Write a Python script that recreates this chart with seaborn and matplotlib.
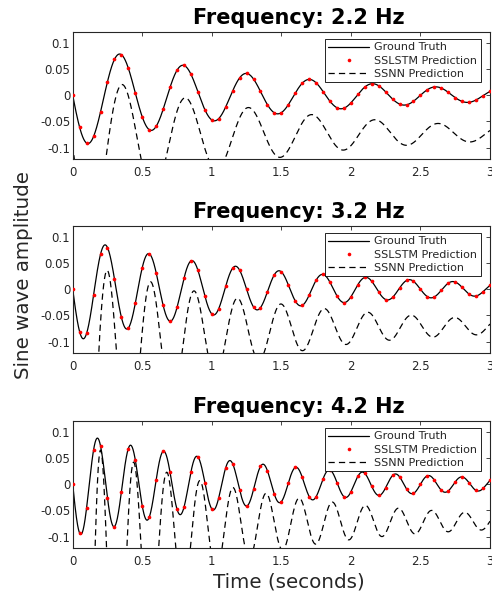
import numpy as np
import pandas as pd
import matplotlib
matplotlib.use("Agg")
import matplotlib.pyplot as plt
import seaborn as sns
from matplotlib.lines import Line2D

# ---------------- data ----------------
TITLES = ["Frequency: 2.2 Hz", "Frequency: 3.2 Hz", "Frequency: 4.2 Hz"]
FREQUENCIES = [2.2, 3.2, 4.2]          # Hz, from the panel titles
GT_AMPLITUDE = 0.1                      # initial amplitude of ground truth
GT_DECAY = 0.7                          # envelope decay (1/s)
SAMPLE_STEP = 0.05                      # spacing of SSLSTM prediction points (s)
DURATION = 3.0
# SSNN prediction: offset, oscillation amplitude / decay, lag, and initial trough transient
SSNN_OFFSET = [-0.073, -0.0714, -0.0714]
SSNN_AMPLITUDE = [0.12, 0.129, 0.16]
SSNN_DECAY = [0.70, 0.73, 0.78]
SSNN_LAG = [0.017, 0.014, 0.022]
SSNN_TRANSIENT = [0.13, 0.40, 0.85]
SSNN_TRANSIENT_RATE = [2.4, 2.4, 3.4]
SSNN_START = 0.3                        # first SSNN value (off the top of the axes)

SERIES = ["Ground Truth", "SSLSTM Prediction", "SSNN Prediction"]
X_TICKS = [0, 0.5, 1, 1.5, 2, 2.5, 3]
X_TICK_LABELS = ["0", "0.5", "1", "1.5", "2", "2.5", "3"]
Y_TICKS = [-0.1, -0.05, 0, 0.05, 0.1]
Y_TICK_LABELS = ["-0.1", "-0.05", "0", "0.05", "0.1"]
X_LABEL = "Time (seconds)"
Y_LABEL = "Sine wave amplitude"

# ---------------- styling ----------------
sns.set_style("white")
plt.rcParams["font.family"] = ["DejaVu Sans"]
plt.rcParams["axes.unicode_minus"] = False
plt.rcParams["lines.scale_dashes"] = False

DARK = "#262626"
W, H = 492, 597
fig = plt.figure(figsize=(W / 100, H / 100), dpi=100)

left = 72.7 / W
width = (490.0 - 72.7) / W
ax_h = 126.5 / H
tops = [32, 226, 421]


def ground_truth(t, f):
    return -GT_AMPLITUDE * np.exp(-GT_DECAY * t) * np.sin(2 * np.pi * f * t)


t_line = np.round(np.arange(0, DURATION + 1e-9, 0.001), 4)
t_pts = np.round(np.arange(0, DURATION + 1e-9, SAMPLE_STEP), 4)

for i, f in enumerate(FREQUENCIES):
    bottom = 1 - (tops[i] + 126.5) / H
    ax = fig.add_axes([left, bottom, width, ax_h])

    gt = ground_truth(t_line, f)
    osc = -np.sin(2 * np.pi * f * (t_line - SSNN_LAG[i]))
    amp = SSNN_AMPLITUDE[i] * np.exp(-SSNN_DECAY[i] * t_line)
    trans = SSNN_TRANSIENT[i] * np.exp(-SSNN_TRANSIENT_RATE[i] * t_line)
    ssnn = SSNN_OFFSET[i] + amp * osc - trans * (1 - osc) / 2
    ssnn[0] = SSNN_START

    df_line = pd.DataFrame({"t": t_line, "gt": gt, "ssnn": ssnn})
    df_pts = pd.DataFrame({"t": t_pts, "pred": ground_truth(t_pts, f)})

    sns.lineplot(data=df_line, x="t", y="gt", ax=ax, color="black", lw=0.9,
                 estimator=None, sort=False)
    sns.scatterplot(data=df_pts, x="t", y="pred", ax=ax, color="red", s=7,
                    linewidth=0, zorder=4, clip_on=True)
    sns.lineplot(data=df_line, x="t", y="ssnn", ax=ax, color="black", lw=0.9,
                 linestyle=(0, (4.5, 3)), estimator=None, sort=False)

    ax.set_xlim(0, DURATION)
    ax.set_ylim(-0.121, 0.121)
    ax.set_xticks(X_TICKS)
    ax.set_xticklabels(X_TICK_LABELS)
    ax.set_yticks(Y_TICKS)
    ax.set_yticklabels(Y_TICK_LABELS)
    ax.set_xlabel("")
    ax.set_ylabel("")
    ax.tick_params(direction="in", length=3, width=0.6, colors=DARK,
                   labelsize=8.5, top=True, right=True,
                   labeltop=False, labelright=False)
    ax.tick_params(axis="x", pad=5.5)
    ax.tick_params(axis="y", pad=1.8)
    for sp in ax.spines.values():
        sp.set_visible(True)
        sp.set_color(DARK)
        sp.set_linewidth(0.8)

    ax.set_title(TITLES[i], fontsize=15, fontweight="bold", color="black",
                 x=0.542, pad=6)

    handles = [
        Line2D([], [], color="black", lw=0.9),
        Line2D([], [], color="red", marker="o", markersize=2.6, lw=0,
               markeredgewidth=0),
        Line2D([], [], color="black", lw=0.9, linestyle=(0, (4.5, 3))),
    ]
    leg = ax.legend(handles, SERIES, loc="upper right",
                    bbox_to_anchor=(0.978, 0.944), borderaxespad=0,
                    fontsize=8, frameon=True, fancybox=False, framealpha=1,
                    edgecolor="black", handlelength=3.7, handletextpad=0.45,
                    borderpad=0.3, labelspacing=0.3, numpoints=1)
    leg.get_frame().set_linewidth(0.6)
    for txt in leg.get_texts():
        txt.set_color(DARK)

fig.text(289 / W, 1 - 582.5 / H, X_LABEL, ha="center", va="center",
         fontsize=14.3, color=DARK)
fig.text(23.5 / W, 1 - 275.5 / H, Y_LABEL, ha="center", va="center",
         rotation=90, fontsize=14.3, color=DARK)

fig.savefig("out.png", dpi=100)
